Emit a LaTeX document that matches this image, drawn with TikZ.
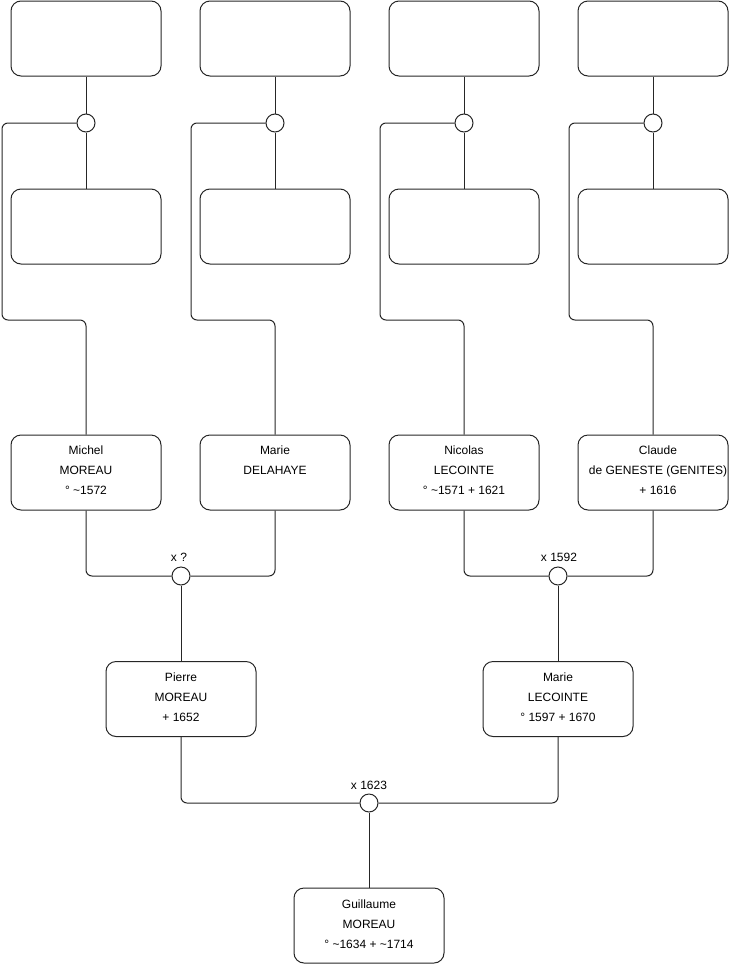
\documentclass[tikz,border=0pt]{standalone}
\usepackage{fontspec}
\setmainfont{Liberation Sans}
\begin{document}
\begin{tikzpicture}[x=0.75pt,y=-0.75pt,
  person/.style={draw=black!85,line width=0.75pt,rounded corners=7.5pt,minimum width=112.5pt,minimum height=56.25pt,inner sep=0pt},
  ptext/.style={align=center,font=\fontsize{9}{15}\selectfont,inner sep=0pt},
  union/.style={draw=black!85,line width=0.75pt,circle,minimum size=13.5pt,inner sep=0pt,fill=white},
  conn/.style={draw=black!85,line width=0.75pt,rounded corners=4.5pt},
  ulabel/.style={font=\fontsize{9}{11}\selectfont,inner sep=0pt}]
\useasboundingbox (0,0) rectangle (740,975);
% top row
\node[person] (t1) at (86,38.5) {};
\node[person] (t2) at (275,38.5) {};
\node[person] (t3) at (464,38.5) {};
\node[person] (t4) at (653,38.5) {};
% second row
\node[person] (s1) at (86,226.5) {};
\node[person] (s2) at (275,226.5) {};
\node[person] (s3) at (464,226.5) {};
\node[person] (s4) at (653,226.5) {};
% unions top
\node[union] (u1) at (86,123) {};
\node[union] (u2) at (275,123) {};
\node[union] (u3) at (464,123) {};
\node[union] (u4) at (653,123) {};
% third row
\node[person] (m1) at (86,472.5) {};
\node[ptext] (m1t) at (86,470) {Michel\\MOREAU\\° \textasciitilde1572};
\node[person] (m2) at (275,472.5) {};
\node[ptext] (m2t) at (275,460) {Marie\\DELAHAYE};
\node[person] (m3) at (464,472.5) {};
\node[ptext] (m3t) at (464,470) {Nicolas\\LECOINTE\\° \textasciitilde1571 + 1621};
\node[person] (m4) at (653,472.5) {};
\node[ptext] (m4t) at (658,470) {Claude\\de GENESTE (GENITES)\\+ 1616};
% unions middle
\node[union] (v1) at (181,576) {};
\node[union] (v2) at (558,576) {};
\node[ulabel] (v1l) at (179,557) {x ?};
\node[ulabel] (v2l) at (559,557) {x 1592};
% fourth row
\node[person] (p1) at (181,699) {};
\node[ptext] (p1t) at (181,697) {Pierre\\MOREAU\\+ 1652};
\node[person] (p2) at (558,699) {};
\node[ptext] (p2t) at (558,697) {Marie\\LECOINTE\\° 1597 + 1670};
% bottom union
\node[union] (w) at (369,803) {};
\node[ulabel] (wl) at (369,785) {x 1623};
% bottom person
\node[person] (g) at (369,925.5) {};
\node[ptext] (gt) at (369,924) {Guillaume\\MOREAU\\° \textasciitilde1634 + \textasciitilde1714};
% top connectors
\foreach \i/\x in {1/2,2/191,3/380,4/569}{
  \draw[conn] (t\i.south) -- (u\i.north);
  \draw[conn] (u\i.south) -- (s\i.north);
  \draw[conn] (u\i.west) -| (\x,320) -| (m\i.north);
}
% middle connectors
\draw[conn] (m1.south) |- (v1.west);
\draw[conn] (m2.south) |- (v1.east);
\draw[conn] (v1.south) -- (p1.north);
\draw[conn] (m3.south) |- (v2.west);
\draw[conn] (m4.south) |- (v2.east);
\draw[conn] (v2.south) -- (p2.north);
% bottom connectors
\draw[conn] (p1.south) |- (w.west);
\draw[conn] (p2.south) |- (w.east);
\draw[conn] (w.south) -- (g.north);
\end{tikzpicture}
\end{document}
